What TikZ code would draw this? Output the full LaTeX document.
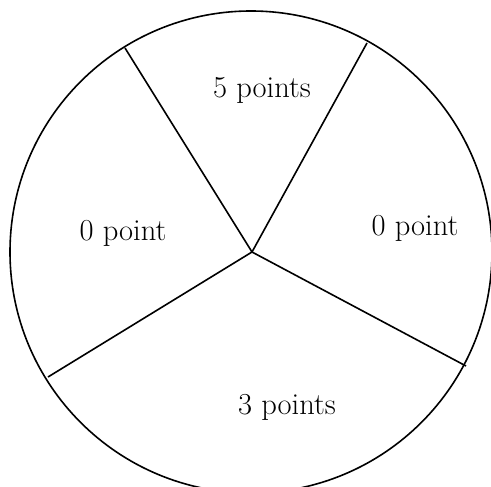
\documentclass[tikz,border=0pt]{standalone}
\usepackage{fontspec}
\begin{document}
\begin{tikzpicture}[x=1pt,y=-1pt,
  rim/.style={line width=1.6pt},
  spoke/.style={line width=1.6pt},
  lbl/.style={font=\fontsize{30.5}{36}\selectfont, inner sep=0pt}]
\useasboundingbox (0,0) rectangle (491,487);
\coordinate (c) at (251,252);
\coordinate (hub) at (252,252);
\draw[rim] (c) circle[radius=241];
\coordinate (ul) at (125,48);
\coordinate (ur) at (367,43);
\coordinate (lr) at (466,366);
\coordinate (ll) at (48,377);
\draw[spoke] (hub) -- (ul);
\draw[spoke] (hub) -- (ur);
\draw[spoke] (hub) -- (lr);
\draw[spoke] (hub) -- (ll);
\node[lbl] (five) at (262,90) {5 points};
\node[lbl] (zl) at (123,233) {0 point};
\node[lbl] (zr) at (415,228) {0 point};
\node[lbl] (three) at (287,407) {3 points};
\end{tikzpicture}
\end{document}
